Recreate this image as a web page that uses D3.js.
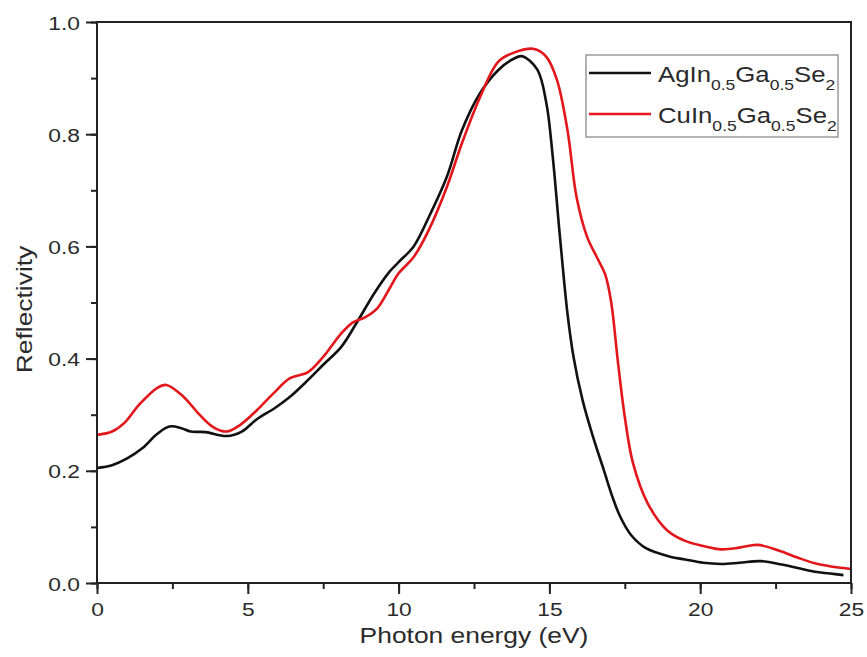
<!DOCTYPE html>
<html><head><meta charset="utf-8">
<script src="https://cdn.jsdelivr.net/npm/d3@7"></script>
<style>body{margin:0;background:#fff}text{font-family:"Liberation Sans",Arial,sans-serif;fill:#2a2a2a}</style>
</head><body><svg id="c" width="867" height="657"></svg>
<script>
const agX = [0,0.5,1.0,1.5,2.0,2.4,2.8,3.1,3.6,4.3,4.8,5.3,5.9,6.4,7.0,7.5,8.1,8.6,9.2,9.7,10.0,10.5,11.0,11.6,12.1,12.7,13.3,13.8,14.1,14.6,14.9,15.1,15.35,15.6,15.8,16.1,16.45,16.8,17.1,17.35,17.7,18.2,19.0,19.5,20.1,20.7,21.3,22.0,22.7,23.2,23.8,24.3,24.75];
const agY = [0.205,0.21,0.222,0.24,0.266,0.279,0.276,0.27,0.269,0.262,0.27,0.292,0.312,0.332,0.362,0.389,0.421,0.463,0.517,0.555,0.572,0.6,0.652,0.724,0.807,0.873,0.914,0.934,0.939,0.915,0.855,0.766,0.617,0.48,0.403,0.326,0.26,0.202,0.152,0.118,0.086,0.062,0.047,0.042,0.036,0.034,0.036,0.039,0.033,0.027,0.02,0.017,0.014];
const cuX = [0,0.5,0.9,1.4,2.0,2.3,2.85,3.4,3.85,4.3,4.75,5.3,5.85,6.4,7.0,7.5,8.1,8.5,8.9,9.3,9.7,10.0,10.5,11.0,11.6,12.1,12.7,13.3,13.8,14.5,14.9,15.25,15.6,15.9,16.25,16.6,16.85,17.05,17.27,17.5,17.77,18.25,18.9,19.5,20.1,20.7,21.3,21.9,22.6,23.2,23.8,24.4,25.0];
const cuY = [0.264,0.27,0.285,0.318,0.348,0.353,0.333,0.3,0.278,0.27,0.282,0.308,0.338,0.365,0.376,0.403,0.445,0.465,0.474,0.49,0.525,0.552,0.581,0.629,0.706,0.784,0.866,0.929,0.945,0.952,0.938,0.897,0.807,0.688,0.617,0.578,0.55,0.5,0.395,0.296,0.214,0.143,0.094,0.075,0.066,0.06,0.063,0.068,0.058,0.046,0.035,0.029,0.025];
const xTicks = [0,5,10,15,20,25];
const yTicks = [0.0,0.2,0.4,0.6,0.8,1.0];
const seriesColors = ["#111111","#e3161b"];

const SX = 1.2;
const svg = d3.select("#c");
const L = 97, R = 851, T = 22, B = 583;
const x = d3.scaleLinear().domain([0,25]).range([L,R]);
const y = d3.scaleLinear().domain([0,1]).range([B,T]);

const line = d3.line().x(d=>x(d[0])).y(d=>y(d[1])).curve(d3.curveCatmullRom.alpha(0.5));
const series = [d3.zip(agX,agY), d3.zip(cuX,cuY)];
series.forEach((s,i)=>{
  svg.append("path").datum(s).attr("d",line).attr("fill","none")
    .attr("stroke",seriesColors[i]).attr("stroke-width",2.6).attr("stroke-linejoin","round");
});

// frame
svg.append("rect").attr("x",L).attr("y",T).attr("width",R-L).attr("height",B-T)
  .attr("fill","none").attr("stroke","#222").attr("stroke-width",2);

const gx = svg.append("g").attr("transform",`translate(0,${B})`);
gx.call(d3.axisBottom(x).tickValues(d3.range(0,25.01,2.5)).tickSize(6).tickFormat(""));
const gxm = svg.append("g").attr("transform",`translate(0,${B})`);
gxm.call(d3.axisBottom(x).tickValues(xTicks).tickSize(11).tickFormat(d3.format("d")));
const gy = svg.append("g").attr("transform",`translate(${L},0)`);
gy.call(d3.axisLeft(y).tickValues(d3.range(0,1.001,0.1)).tickSize(6).tickFormat(""));
const gym = svg.append("g").attr("transform",`translate(${L},0)`);
gym.call(d3.axisLeft(y).tickValues(yTicks).tickSize(11).tickFormat(d3.format(".1f")));
[gx,gxm,gy,gym].forEach(g=>{
  g.select(".domain").remove();
  g.selectAll("line").attr("stroke","#222").attr("stroke-width",2);
});
gxm.selectAll("text").attr("y",0).attr("dy",0).attr("transform","translate(0,33) scale("+SX+",1)")
  .style("font-size","19px").style("fill","#2a2a2a").attr("font-family",null);
gym.selectAll("text").attr("x",0).attr("dy",0).attr("transform","translate(-17,7) scale("+SX+",1)")
  .style("font-size","19px").style("fill","#2a2a2a").attr("font-family",null);

// axis titles
svg.append("text").attr("transform",`translate(${(L+R)/2},643) scale(${SX},1)`)
  .attr("text-anchor","middle").style("font-size","22px").text("Photon energy (eV)");
svg.append("text").attr("transform",`translate(32,${(T+B)/2 + 7}) rotate(-90) scale(${SX},1)`)
  .attr("text-anchor","middle").style("font-size","22px").text("Reflectivity");

// legend
const LSX = 1.17;
const lg = svg.append("g");
lg.append("rect").attr("x",586).attr("y",55).attr("width",252).attr("height",82)
  .attr("fill","#fff").attr("stroke","#999").attr("stroke-width",1.5);
const legendParts = [
  [["AgIn",0],["0.5",1],["Ga",0],["0.5",1],["Se",0],["2",1]],
  [["CuIn",0],["0.5",1],["Ga",0],["0.5",1],["Se",0],["2",1]]
];
legendParts.forEach((parts,i)=>{
  const ly = 73 + i*41;
  lg.append("line").attr("x1",589).attr("x2",651).attr("y1",ly).attr("y2",ly)
    .attr("stroke",seriesColors[i]).attr("stroke-width",2.6);
  const t = lg.append("text").attr("transform",`translate(658,${ly+9}) scale(${LSX},1)`).style("font-size","22px");
  parts.forEach(([s,sub],j)=>{
    t.append("tspan").text(s).attr("dy",sub?8:(j===0?0:-8)).style("font-size",sub?"15px":"22px");
  });
});
</script></body></html>
